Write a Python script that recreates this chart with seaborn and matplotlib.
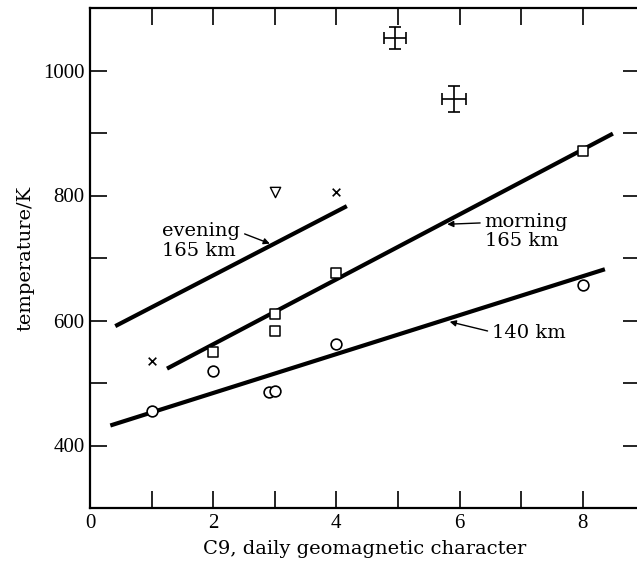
import numpy as np
import pandas as pd
import matplotlib
matplotlib.use("Agg")
import matplotlib.pyplot as plt
from matplotlib.ticker import MultipleLocator
import seaborn as sns

# points
c9_140 = [1, 2, 2.9, 3, 4, 8]
t_140 = [456, 520, 486, 487, 562, 657]
c9_morn = [2, 3, 3, 4, 8]
t_morn = [550, 611, 583, 676, 871]
c9_even_x = [1, 4]
t_even_x = [536, 805]
c9_tri = [3]
t_tri = [805]
c9_err = [4.95, 5.91]
t_err = [1052, 955]
xerr = [0.18, 0.2]
yerr = [18, 21]

# fitted lines (end points)
fit_140_x = [0.33, 8.36]
fit_140_y = [432, 682]
fit_morn_x = [1.25, 8.49]
fit_morn_y = [523, 899]
fit_even_x = [0.41, 4.17]
fit_even_y = [591, 783]

sns.set_theme(style="ticks")
plt.rcParams['font.family'] = ['Liberation Serif', 'DejaVu Serif']
plt.rcParams['text.color'] = 'black'
plt.rcParams['axes.labelcolor'] = 'black'
txt_font = ['DejaVu Serif']

fig = plt.figure(figsize=(6.37, 5.65), dpi=100)
ax = fig.add_axes([90 / 637, 57 / 565, 550 / 637, 500 / 565])

for fx, fy in [(fit_140_x, fit_140_y), (fit_morn_x, fit_morn_y), (fit_even_x, fit_even_y)]:
    sns.lineplot(x=fx, y=fy, ax=ax, color='black', lw=3, solid_capstyle='butt')

sns.scatterplot(x=c9_140, y=t_140, ax=ax, marker='o', s=60, facecolor='white',
                edgecolor='black', linewidth=1.2, zorder=3)
sns.scatterplot(x=c9_morn, y=t_morn, ax=ax, marker='s', s=45, facecolor='white',
                edgecolor='black', linewidth=1.1, zorder=3)
sns.scatterplot(x=c9_even_x, y=t_even_x, ax=ax, marker='x', s=30, color='black',
                linewidth=1.2, zorder=3)
sns.scatterplot(x=c9_tri, y=t_tri, ax=ax, marker='v', s=55, facecolor='white',
                edgecolor='black', linewidth=1.0, zorder=3)
ax.errorbar(c9_err, t_err, xerr=xerr, yerr=yerr, fmt='none', ecolor='black',
            elinewidth=1.2, capsize=4, capthick=1.2)

def arrow(rel):
    return dict(arrowstyle='-|>', color='black', lw=1, mutation_scale=9,
                shrinkA=1, shrinkB=0, relpos=rel)

ax.annotate('evening\n165 km', xy=(2.92, 723), xytext=(1.17, 727), fontsize=14,
            family=txt_font, color='black', ha='left', va='center', linespacing=1.1,
            arrowprops=arrow((1.0, 0.74)))
ax.annotate('morning\n165 km', xy=(5.80, 754), xytext=(6.41, 742), fontsize=14,
            family=txt_font, color='black', ha='left', va='center', linespacing=1.1,
            arrowprops=arrow((0.0, 0.74)))
ax.annotate('140 km', xy=(5.84, 598), xytext=(6.53, 580), fontsize=14,
            family=txt_font, color='black', ha='left', va='center',
            arrowprops=arrow((0.0, 0.55)))

ax.set_xlim(0, 8.93)
ax.set_ylim(300, 1100)
ax.xaxis.set_major_locator(MultipleLocator(2))
ax.xaxis.set_minor_locator(MultipleLocator(1))
ax.yaxis.set_major_locator(MultipleLocator(200))
ax.yaxis.set_minor_locator(MultipleLocator(100))
ax.tick_params(which='both', direction='in', top=True, right=True, width=1.2,
               labelsize=15, color='black', labelcolor='black')
ax.tick_params(which='major', length=12, pad=4)
ax.tick_params(which='minor', length=12)
ax.set_yticks([400, 600, 800, 1000])
for sp in ax.spines.values():
    sp.set_linewidth(1.6)
    sp.set_color('black')

ax.set_xlabel('C9, daily geomagnetic character', fontsize=14, family=txt_font,
              labelpad=5, color='black')
ax.set_ylabel('temperature/K', fontsize=14, family=txt_font, labelpad=6, color='black')

fig.savefig('out.png', dpi=100)
